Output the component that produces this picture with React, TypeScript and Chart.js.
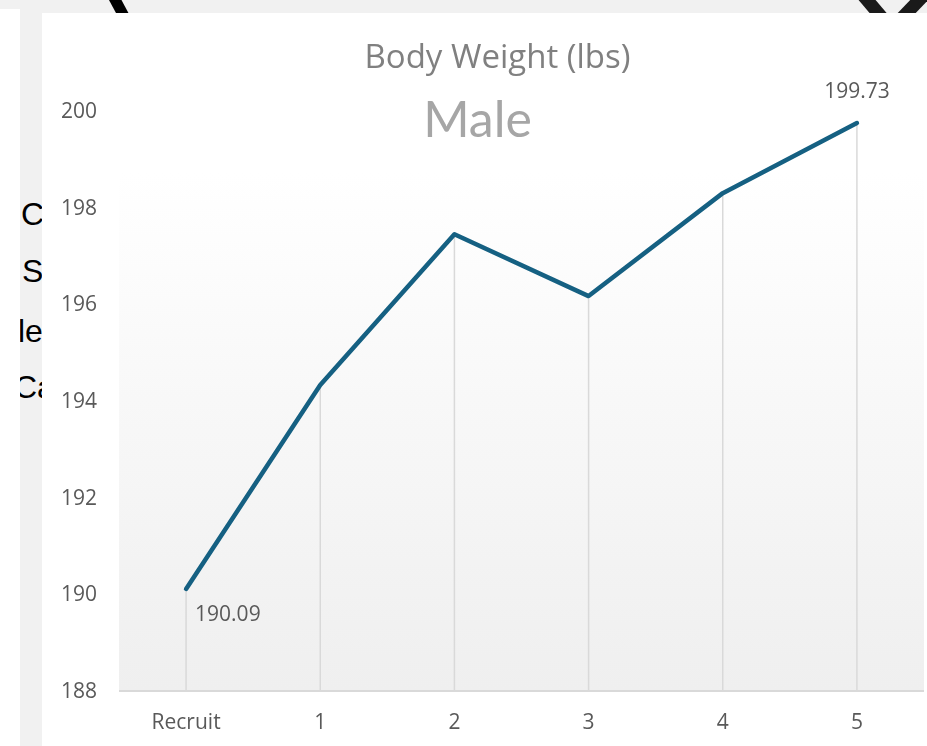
import React, { useEffect, useRef } from "react";
import { Chart, registerables } from "chart.js";

Chart.register(...registerables);

const categories = ["Recruit", "1", "2", "3", "4", "5"];
const weights = [190.09, 194.31, 197.43, 196.15, 198.28, 199.73];
const yTicks = [188, 190, 192, 194, 196, 198, 200];
const labelledPoints = [0, 5];
const chartTitle = "Body Weight (lbs)";
const chartSubtitle = "Male";
const sideText = ["C", "S", "le", "Ca"];

const FONT = "'Open Sans', Lato, sans-serif";
const FONT_BIG = "Lato, 'Open Sans', sans-serif";
const LINE_COLOR = "#156082";
const TEXT_COLOR = "#595959";

const decorPlugin = {
  id: "decor",
  beforeDatasetsDraw(chart: any) {
    const { ctx, chartArea: a } = chart;
    const top = a.top + 63;
    ctx.save();
    const g = ctx.createLinearGradient(0, top, 0, a.bottom);
    g.addColorStop(0, "#ffffff");
    g.addColorStop(1, "#efefef");
    ctx.fillStyle = g;
    ctx.fillRect(a.left, top, a.right - a.left, a.bottom - top);
    const meta = chart.getDatasetMeta(0);
    ctx.strokeStyle = "#d9d9d9";
    ctx.lineWidth = 1.5;
    meta.data.forEach((p: any) => {
      ctx.beginPath();
      ctx.moveTo(p.x, p.y);
      ctx.lineTo(p.x, a.bottom);
      ctx.stroke();
    });
    ctx.lineWidth = 2;
    ctx.beginPath();
    ctx.moveTo(a.left, a.bottom + 1);
    ctx.lineTo(a.right, a.bottom + 1);
    ctx.stroke();
    ctx.restore();
  },
  afterDatasetsDraw(chart: any) {
    const { ctx } = chart;
    const meta = chart.getDatasetMeta(0);
    ctx.save();
    ctx.fillStyle = TEXT_COLOR;
    ctx.font = `21px ${FONT}`;
    ctx.textBaseline = "middle";
    labelledPoints.forEach((i) => {
      const p = meta.data[i];
      const txt = weights[i].toFixed(2);
      if (i === 0) {
        ctx.textAlign = "left";
        ctx.fillText(txt, p.x + 9, p.y + 26);
      } else {
        ctx.textAlign = "center";
        ctx.fillText(txt, p.x, p.y - 31);
      }
    });
    ctx.textAlign = "center";
    ctx.textBaseline = "alphabetic";
    ctx.fillStyle = "#808080";
    ctx.font = `33px ${FONT}`;
    ctx.fillText(chartTitle, 455.5, 55);
    ctx.fillStyle = "#a6a6a6";
    ctx.font = `50px ${FONT_BIG}`;
    ctx.fillText(chartSubtitle, 435.5, 124);
    ctx.restore();
  },
};

export default function App() {
  const ref = useRef<HTMLCanvasElement | null>(null);

  useEffect(() => {
    if (!ref.current) return;
    const chart = new Chart(ref.current, {
      type: "line",
      data: {
        labels: categories,
        datasets: [
          {
            data: weights,
            borderColor: LINE_COLOR,
            borderWidth: 4.5,
            pointRadius: 0,
            pointHoverRadius: 0,
            tension: 0,
            borderCapStyle: "round",
            borderJoinStyle: "round",
            fill: false,
          },
        ],
      },
      options: {
        animation: false,
        responsive: false,
        devicePixelRatio: 1,
        layout: { padding: { top: 97, right: 3, left: 0, bottom: 0 } },
        plugins: {
          legend: { display: false },
          tooltip: { enabled: false },
          title: { display: false },
        },
        scales: {
          x: {
            offset: true,
            grid: { display: false, drawTicks: false },
            border: { display: false },
            ticks: {
              color: TEXT_COLOR,
              font: { family: FONT, size: 21 },
              padding: 20,
              maxRotation: 0,
            },
            afterFit(s: any) {
              s.height = 56;
            },
          },
          y: {
            min: 188,
            max: 200,
            grid: { display: false, drawTicks: false },
            border: { display: false },
            ticks: {
              color: TEXT_COLOR,
              font: { family: FONT, size: 21 },
              padding: 22,
              labelOffset: 2,
            },
            afterBuildTicks(s: any) {
              s.ticks = yTicks.map((v) => ({ value: v }));
            },
            afterFit(s: any) {
              s.width = 77;
            },
          },
        },
      },
      plugins: [decorPlugin],
    });
    return () => chart.destroy();
  }, []);

  const sideBaselines = [225, 282, 342, 398];
  const sideX = [1, 2, -2, -6];

  return (
    <div
      style={{
        position: "fixed",
        left: 0,
        top: 0,
        width: 927,
        height: 746,
        background: "#f1f1f1",
        overflow: "hidden",
      }}
    >
      <svg
        width={927}
        height={20}
        style={{ position: "absolute", left: 0, top: 0 }}
      >
        <line x1={112} y1={-6} x2={126} y2={20} stroke="#000" strokeWidth={11} />
        <line x1={862} y1={-6} x2={884} y2={20} stroke="#1a1a1a" strokeWidth={13} />
        <line x1={925} y1={-6} x2={900} y2={20} stroke="#1a1a1a" strokeWidth={13} />
      </svg>
      <div
        style={{
          position: "absolute",
          left: 0,
          top: 9,
          width: 20,
          height: 737,
          background: "#ffffff",
        }}
      />
      <div
        style={{
          position: "absolute",
          left: 20,
          top: 0,
          width: 22,
          height: 746,
          overflow: "hidden",
        }}
      >
        <svg width={22} height={746}>
          {sideText.map((t, i) => (
            <text
              key={i}
              x={sideX[i]}
              y={sideBaselines[i]}
              fill="#000"
              style={{ font: "32px 'Liberation Sans', Arial, sans-serif" }}
            >
              {t}
            </text>
          ))}
        </svg>
      </div>
      <div
        style={{
          position: "absolute",
          left: 42,
          top: 13,
          width: 885,
          height: 733,
          background: "#ffffff",
        }}
      >
        <canvas ref={ref} width={885} height={733} style={{ display: "block" }} />
      </div>
    </div>
  );
}
